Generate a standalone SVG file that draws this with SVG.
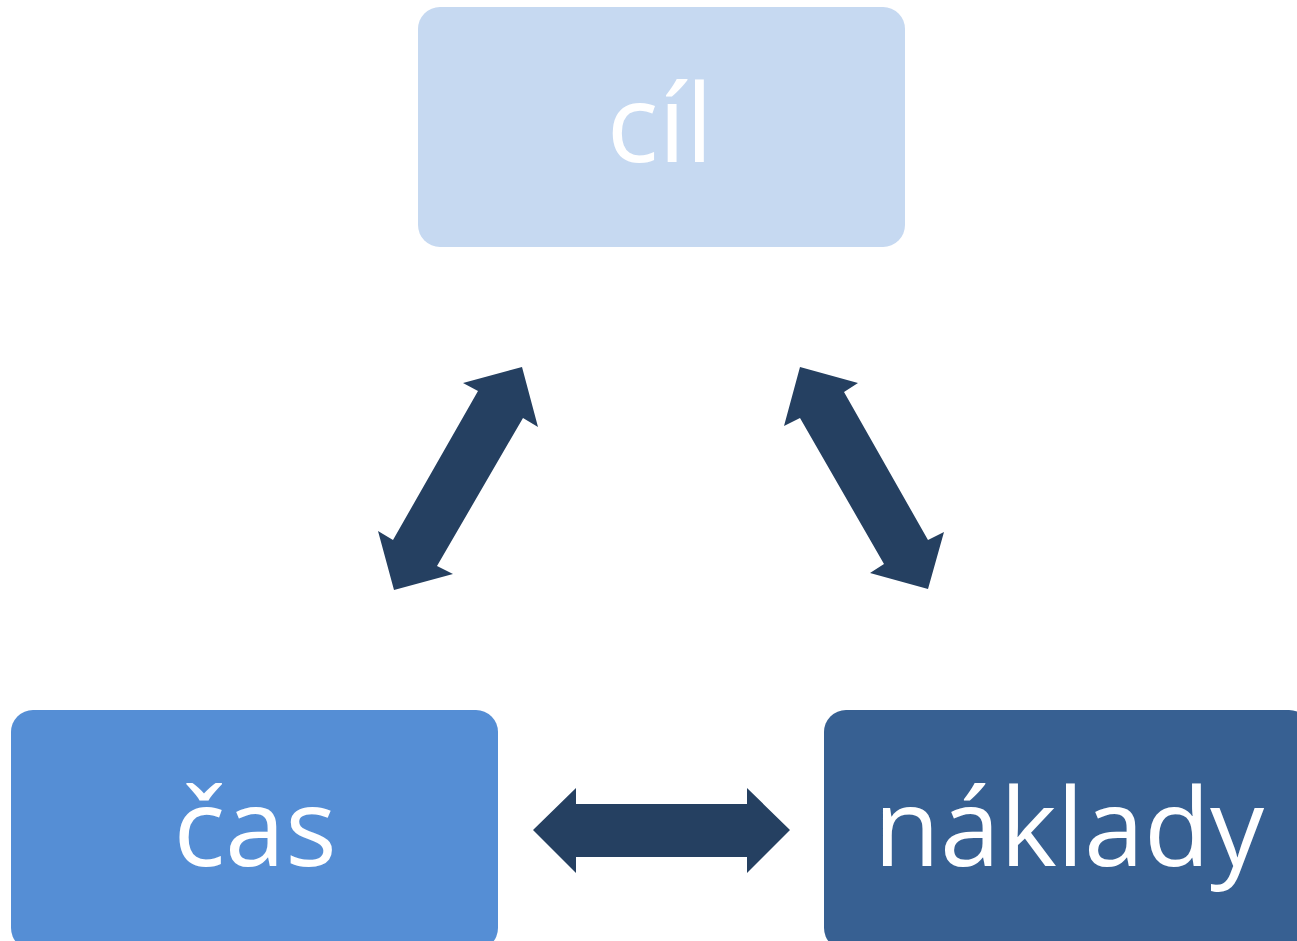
<svg xmlns="http://www.w3.org/2000/svg" width="1297" height="941" viewBox="0 0 1297 941">
<style>
.lbl{font-family:"Open Sans","Noto Sans","Liberation Sans",sans-serif;font-size:108px;fill:#ffffff;text-anchor:middle}
.arr{fill:#254061}
</style>
<rect width="1297" height="941" fill="#ffffff"/>
<g id="connectors">
<polygon class="arr" points="522,367 538,427 523,418 437,566 453,574 394,590 378,531 393,540 478,391 463,383"/>
<polygon class="arr" points="800,367 858,383 844,392 928,540 944,532 928,589 870,573 884,564 800,418 784,426"/>
<polygon class="arr" points="533,830 576,788 576,804 747,804 747,788 790,830 747,873 747,857 576,857 576,873"/>
</g>
<g id="node-cil">
<rect x="418" y="7" width="487" height="240" rx="22" fill="#C6D9F1"/>
<text class="lbl" x="660" y="162">cíl</text>
</g>
<g id="node-cas">
<rect x="11" y="710" width="487" height="240" rx="22" fill="#558ED5"/>
<text class="lbl" x="255" y="866">čas</text>
</g>
<g id="node-naklady">
<rect x="824" y="710" width="487" height="240" rx="22" fill="#376092"/>
<text class="lbl" x="1069" y="866">náklady</text>
</g>
</svg>
